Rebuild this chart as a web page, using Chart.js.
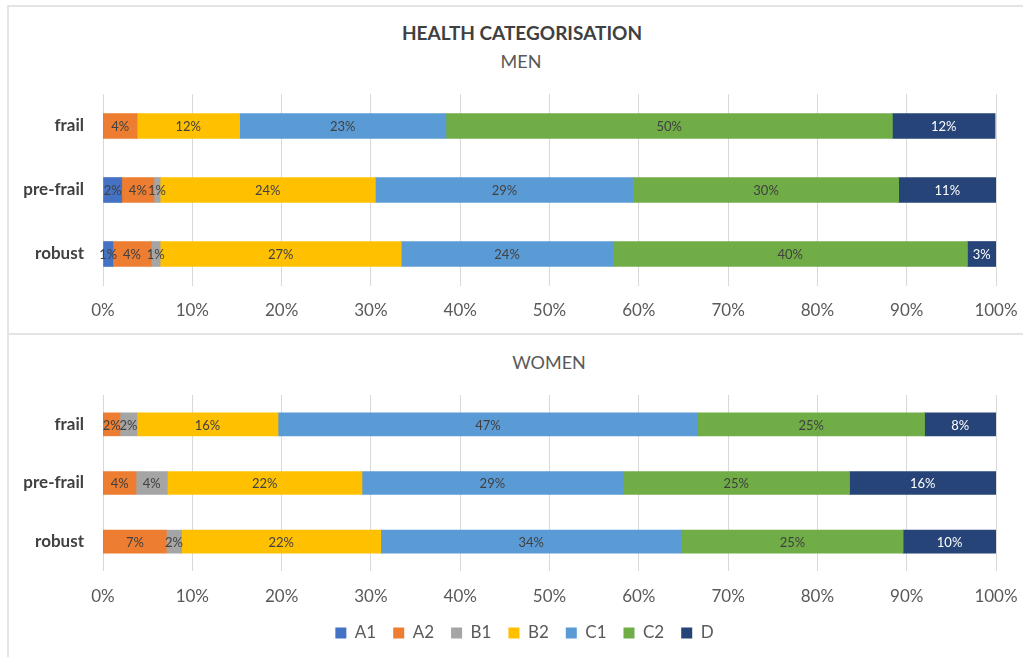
<!DOCTYPE html>
<html>
<head>
<meta charset="utf-8">
<script src="https://cdn.jsdelivr.net/npm/chart.js@4/dist/chart.umd.min.js"></script>
<style>
  body { margin: 0; background: #fff; overflow: hidden; font-family: Lato, sans-serif; }
  .frame { position: absolute; border: 2px solid #e4e4e4; border-right: none; }
  .ttl { position: absolute; width: 400px; text-align: center; font-size: 18px; line-height: 20px; color: #595959; }
  canvas { position: absolute; left: 0; }
</style>
</head>
<body>
<div class="frame" style="left:7px; top:5px; width:1100px; height:326px;"></div>
<div class="frame" style="left:7px; top:333px; width:1100px; height:340px; border-top:none; border-bottom:none;"></div>

<div class="ttl" style="left:322px; top:23px; font-size:19px; font-weight:bold; color:#404040;">HEALTH CATEGORISATION</div>
<div class="ttl" style="left:321px; top:51px;">MEN</div>
<div class="ttl" style="left:349px; top:352px;">WOMEN</div>

<canvas id="menChart" width="1023" height="331" style="top:0"></canvas>
<canvas id="womenChart" width="1023" height="321" style="top:336px"></canvas>

<script>
// categories and series
var categories = ['frail', 'pre-frail', 'robust'];
var seriesNames = ['A1', 'A2', 'B1', 'B2', 'C1', 'C2', 'D'];
var xTicks = [0, 10, 20, 30, 40, 50, 60, 70, 80, 90, 100];

// men, % per category (frail, pre-frail, robust)
var menA1 = [0, 2.1, 1.1];
var menA2 = [3.8, 3.6, 4.3];
var menB1 = [0, 0.7, 1.0];
var menB2 = [11.5, 24.1, 27.0];
var menC1 = [23.1, 28.9, 23.7];
var menC2 = [50.0, 29.7, 39.7];
var menD = [11.5, 10.9, 3.2];

// women
var womenA1 = [0, 0, 0];
var womenA2 = [1.9, 3.7, 7.1];
var womenB1 = [1.9, 3.5, 1.7];
var womenB2 = [15.8, 21.8, 22.3];
var womenC1 = [47.0, 29.2, 33.7];
var womenC2 = [25.4, 25.4, 24.8];
var womenD = [8.0, 16.4, 10.4];

var colors = ['#4472C4', '#ED7D31', '#A5A5A5', '#FFC000', '#5B9BD5', '#70AD47', '#264478'];
var textColors = ['#404040', '#404040', '#404040', '#404040', '#404040', '#404040', '#ffffff'];

// writes the rounded % in the middle of every segment
var barLabels = {
    id: 'barLabels',
    afterDatasetsDraw: function(chart) {
        var ctx = chart.ctx;
        ctx.save();
        ctx.font = '13px Lato';
        ctx.textAlign = 'center';
        ctx.textBaseline = 'middle';
        chart.data.datasets.forEach(function(ds, i) {
            chart.getDatasetMeta(i).data.forEach(function(bar, j) {
                var v = ds.data[j];
                if (!v) return;
                ctx.fillStyle = textColors[i];
                ctx.fillText(Math.round(v) + '%', (bar.x + bar.base) / 2, bar.y + 1);
            });
        });
        ctx.restore();
    }
};

// legend sits a bit right of the plot centre
var legendShift = {
    id: 'legendShift',
    afterLayout: function(chart, args, opts) {
        if (chart.legend && opts.left) chart.legend.left += opts.left;
    }
};

function makeDatasets(values) {
    return values.map(function(d, i) {
        return {
            label: seriesNames[i],
            data: d,
            backgroundColor: colors[i],
            borderWidth: 0
        };
    });
}

function makeChart(id, values, opts) {
    var ctx = document.getElementById(id).getContext('2d');
    return new Chart(ctx, {
        type: 'bar',
        data: {
            labels: categories,
            datasets: makeDatasets(values)
        },
        options: {
            responsive: false,
            animation: false,
            indexAxis: 'y',
            barThickness: opts.barThickness,
            layout: { padding: opts.padding },
            plugins: {
                legend: {
                    display: opts.legend,
                    position: 'bottom',
                    labels: {
                        boxWidth: 11,
                        boxHeight: 11,
                        padding: 17,
                        color: '#595959',
                        font: { family: 'Lato', size: 17 }
                    }
                },
                legendShift: { left: opts.legendShift || 0 },
                tooltip: { enabled: false }
            },
            scales: {
                x: {
                    stacked: true,
                    min: 0,
                    max: 100,
                    afterBuildTicks: function(scale) {
                        scale.ticks = xTicks.map(function(v) { return { value: v }; });
                    },
                    afterFit: function(scale) {
                        scale.height = opts.xHeight;
                        scale.paddingLeft = 0;
                        scale.paddingRight = 0;
                    },
                    grid: { color: '#d9d9d9', drawTicks: false },
                    border: { display: false },
                    ticks: {
                        padding: opts.xPad,
                        color: '#595959',
                        font: { family: 'Lato', size: 17 },
                        callback: function(v) { return v + '%'; }
                    }
                },
                y: {
                    stacked: true,
                    afterFit: function(scale) { scale.width = 103; },
                    grid: { display: false, drawTicks: false },
                    border: { display: false },
                    ticks: {
                        padding: 19,
                        color: '#404040',
                        font: { family: 'Lato', size: 17, weight: 'bold' }
                    }
                }
            }
        },
        plugins: [barLabels, legendShift]
    });
}

var menChart = makeChart('menChart',
    [menA1, menA2, menB1, menB2, menC1, menC2, menD],
    { barThickness: 25, padding: { top: 94, bottom: 10.6, left: 0, right: 27 },
      legend: false, xPad: 14, xHeight: 34.4 });

var womenChart = makeChart('womenChart',
    [womenA1, womenA2, womenB1, womenB2, womenC1, womenC2, womenD],
    { barThickness: 23, padding: { top: 59, bottom: 5.5, left: 0, right: 27 },
      legend: true, legendShift: 53, xPad: 15, xHeight: 36.5 });
</script>
</body>
</html>
